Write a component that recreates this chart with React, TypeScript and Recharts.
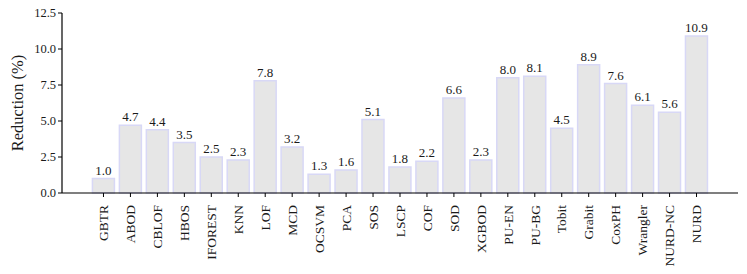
import { Bar, BarChart, LabelList, XAxis, YAxis } from "recharts";

const methods = [
  "GBTR", "ABOD", "CBLOF", "HBOS", "IFOREST", "KNN", "LOF", "MCD", "OCSVM", "PCA", "SOS",
  "LSCP", "COF", "SOD", "XGBOD", "PU-EN", "PU-BG", "Tobit", "Grabit", "CoxPH", "Wrangler",
  "NURD-NC", "NURD",
];
const reduction = [
  1.0, 4.7, 4.4, 3.5, 2.5, 2.3, 7.8, 3.2, 1.3, 1.6, 5.1, 1.8, 2.2, 6.6, 2.3, 8.0, 8.1, 4.5,
  8.9, 7.6, 6.1, 5.6, 10.9,
];
const yTicks = [0, 2.5, 5, 7.5, 10, 12.5];

const data = methods.map((name, i) => ({ name, value: reduction[i] }));

const FONT = "Liberation Serif";

function XTick({ x, y, payload }: any) {
  return (
    <text
      x={x}
      y={y + 6}
      transform={`rotate(-90, ${x}, ${y + 6})`}
      textAnchor="end"
      dy="0.35em"
      fontSize={13.5}
      fontFamily={FONT}
      fill="#1a1a1a"
    >
      {payload.value}
    </text>
  );
}

function YLabel({ viewBox }: any) {
  const cx = 17;
  const cy = viewBox.y + viewBox.height / 2;
  return (
    <text
      x={cx}
      y={cy}
      transform={`rotate(-90, ${cx}, ${cy})`}
      textAnchor="middle"
      dy="0.35em"
      fontSize={16.5}
      fontFamily={FONT}
      fill="#1a1a1a"
    >
      Reduction (%)
    </text>
  );
}

export default function App() {
  return (
    <div style={{ position: "absolute", left: 0, top: 0, background: "#fff" }}>
      <BarChart
        width={747}
        height={274}
        data={data}
        margin={{ top: 13, right: 9, bottom: 0, left: 0 }}
        barCategoryGap="9%"
      >
        <XAxis
          dataKey="name"
          interval={0}
          height={81}
          padding={{ left: 28, right: 28 }}
          tick={<XTick />}
          tickLine={{ stroke: "#000" }}
          tickSize={4}
          axisLine={{ stroke: "#000", strokeWidth: 1.2 }}
        />
        <XAxis
          xAxisId="top"
          orientation="top"
          dataKey="name"
          height={0}
          tick={false}
          tickLine={false}
          axisLine={{ stroke: "#000", strokeWidth: 1.2 }}
        />
        <YAxis
          width={62}
          domain={[0, 12.5]}
          ticks={yTicks}
          tickFormatter={(v: number) => v.toFixed(1)}
          tick={{ fontSize: 12.5, fontFamily: FONT, fill: "#1a1a1a" }}
          tickLine={{ stroke: "#000" }}
          tickSize={4}
          axisLine={{ stroke: "#000", strokeWidth: 1.2 }}
          label={<YLabel />}
        />
        <YAxis
          yAxisId="right"
          orientation="right"
          width={0}
          domain={[0, 12.5]}
          tick={false}
          tickLine={false}
          axisLine={{ stroke: "#000", strokeWidth: 1.2 }}
        />
        <Bar
          dataKey="value"
          fill="#e6e6e6"
          stroke="#d8d8f6"
          strokeWidth={1.5}
          isAnimationActive={false}
        >
          <LabelList
            dataKey="value"
            position="top"
            offset={4}
            formatter={(v: any) => Number(v).toFixed(1)}
            style={{ fontSize: 13, fontFamily: FONT, fill: "#1a1a1a" }}
          />
        </Bar>
      </BarChart>
    </div>
  );
}
